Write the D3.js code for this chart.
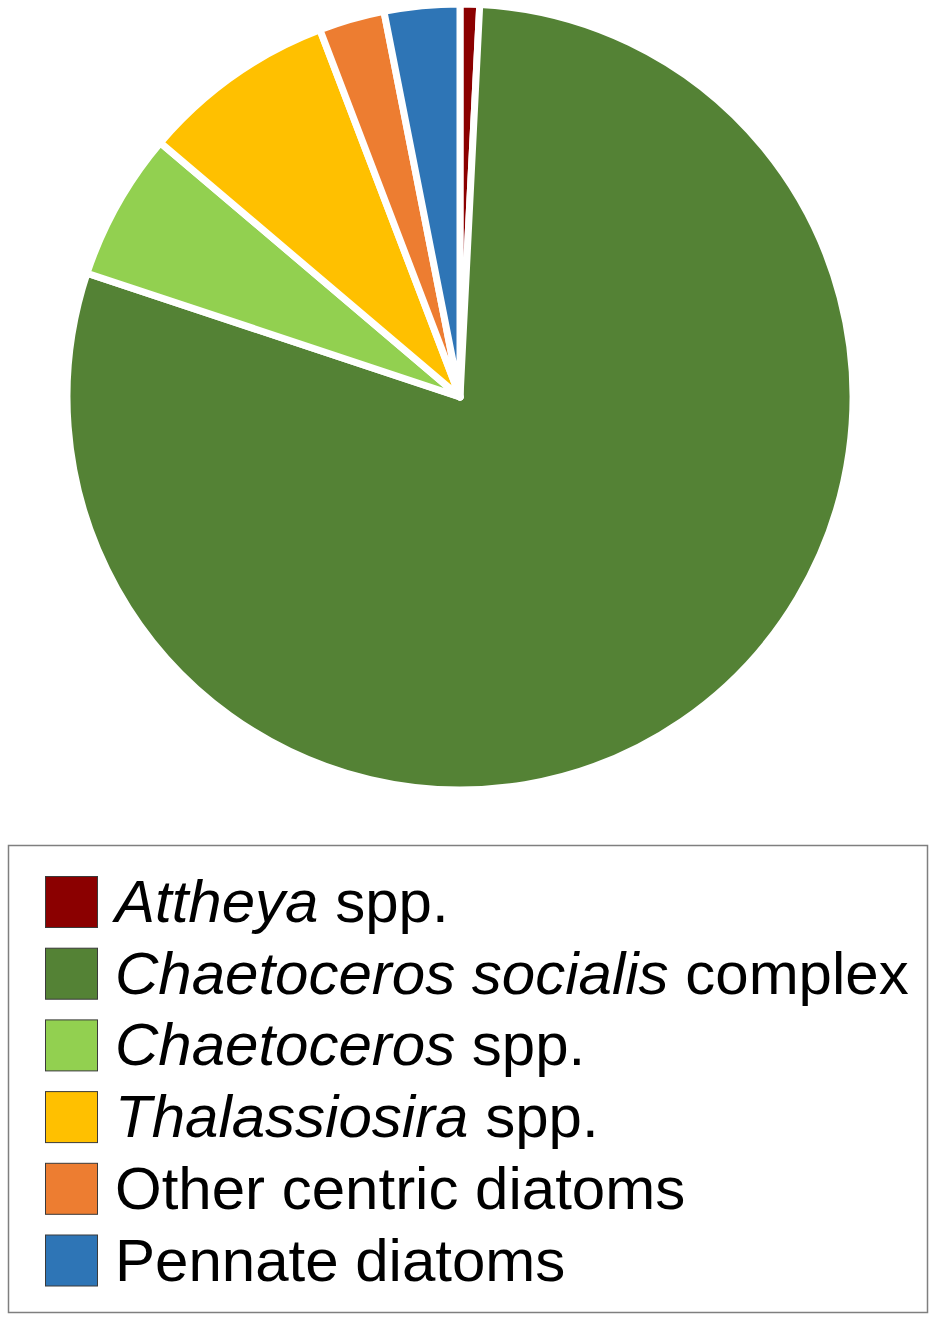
<!DOCTYPE html>
<html><head><meta charset="utf-8">
<script src="https://cdn.jsdelivr.net/npm/d3@7"></script>
<style>html,body{margin:0;padding:0;background:#fff;}</style>
</head><body>
<script>
const categories = ["Attheya spp.", "Chaetoceros socialis complex", "Chaetoceros spp.", "Thalassiosira spp.", "Other centric diatoms", "Pennate diatoms"];
const italicParts = ["Attheya", "Chaetoceros socialis", "Chaetoceros", "Thalassiosira", "", ""];
const plainParts = [" spp.", " complex", " spp.", " spp.", "Other centric diatoms", "Pennate diatoms"];
const values = [0.8, 79.3, 6.1, 8.0, 2.7, 3.1];
const colors = ["#8B0000", "#548235", "#92D050", "#FFC000", "#ED7D31", "#2E75B6"];

const W = 932, H = 1317;
const svg = d3.select("body").append("svg").attr("width", W).attr("height", H);

const data = categories.map((c, i) => ({name: c, value: values[i], color: colors[i], it: italicParts[i], pl: plainParts[i]}));
const pie = d3.pie().value(d => d.value).sort(null);
const arc = d3.arc().innerRadius(0).outerRadius(393);

svg.append("g").attr("transform", "translate(460,397)")
  .selectAll("path").data(pie(data)).join("path")
  .attr("d", arc).attr("fill", d => d.data.color)
  .attr("stroke", "#fff").attr("stroke-width", 7).attr("stroke-linejoin", "round");

// legend
svg.append("rect").attr("x", 8.5).attr("y", 845.5).attr("width", 919).attr("height", 467)
  .attr("fill", "none").attr("stroke", "#7f7f7f").attr("stroke-width", 1.5);

const row = d3.scaleBand().domain(d3.range(data.length)).range([876, 876 + 71.7 * 6]).paddingInner(0);
const lg = svg.append("g");
const items = lg.selectAll("g").data(data).join("g")
  .attr("transform", (d, i) => `translate(0,${row(i)})`);
items.append("rect").attr("x", 45.5).attr("y", 0.5).attr("width", 52).attr("height", 51)
  .attr("fill", d => d.color).attr("stroke", "#3a3a3a").attr("stroke-width", 1);
const t = items.append("text").attr("x", 115).attr("y", 46)
  .attr("font-family", "Liberation Sans, Arial, sans-serif").attr("font-size", 60).attr("fill", "#000");
t.append("tspan").attr("font-style", "italic").text(d => d.it);
t.append("tspan").text(d => d.pl);
</script>
</body></html>
